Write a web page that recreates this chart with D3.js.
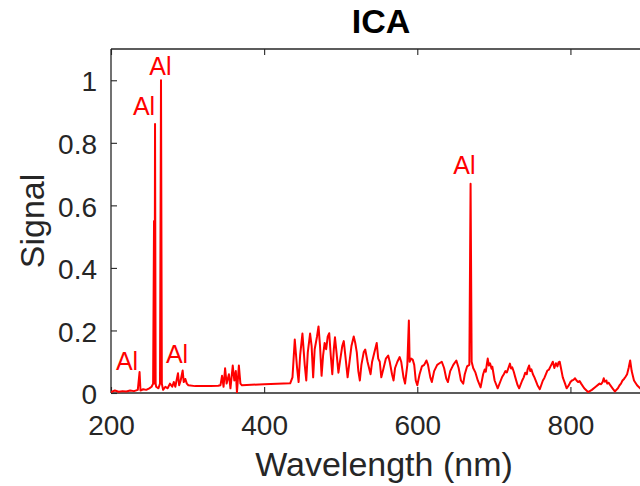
<!DOCTYPE html>
<html>
<head>
<meta charset="utf-8">
<script src="https://cdn.jsdelivr.net/npm/d3@7"></script>
<style>
  html, body { margin: 0; padding: 0; background: #fff; }
  svg { display: block; }
  text { font-family: "Liberation Sans", Arial, Helvetica, sans-serif; }
</style>
</head>
<body>
<svg id="chart" width="640" height="486"></svg>
<script>
// ---- data ----
const wavelength = [
  200,205,210,215,220,225,230,235,237.3,238.5,242,246,250,253,255,256.2,256.9,257.5,258.3,259,262,264,265.3,266.4,268,
  271,274,277,280,282,284,287.5,289,291,293.6,295,297,299,301,310,320,330,340,343,345,347,349,351,354,356,359,361,363,364.5,367,369,371,
  400,434,437,440,443,445,447,450,453,455,457,460,462,464,466,469,471,473,475,477,479,481,483,485,487,489,491,492.5,494.5,497,
  499,502,504,506,509,511,514,517,519,521,523,525,527,530,532,535,539,541,544,547,549,551,553,556,559,562,564,567,569,571,574,
  577,579,582,584,587,589,590,592,594,596,598,600,603,606,609,612,614,617,619,622,626,629,632,635,638,640,643,647,651,654,657,
  660,662,665,668,669.6,671,673,676,679,682.7,686,688,689.5,691,692,693.5,695,697,698,701,705,709,711,713,715,717,719,721,722.5,724,726,728,731,733,737,739,741,743,744,746,747.5,749,
  751,753,757,760,764,766,768,770,772,774,775,777,779,781,783,784.5,786,788,790,793,795,798,800,802,804,806,808,810,812,814,818,823,828,833,836,838,840,842,843.5,845,847,848,850,852,855,
  858,862,864,866,868,870,872,874,876,878,880,883,887,891,895,900
];
const signal = [
  0.003,0.008,0.004,0.006,0.005,0.008,0.006,0.010,0.067,0.008,0.012,0.010,0.015,0.020,0.030,0.550,0.030,0.860,0.030,0.020,0.015,0.030,1.000,0.030,0.010,
  0.020,0.015,0.030,0.020,0.035,0.020,0.063,0.025,0.040,0.072,0.035,0.045,0.030,0.025,0.022,0.022,0.022,0.023,0.025,0.055,0.020,0.079,0.030,0.060,0.015,0.088,0.040,0.070,0.002,0.088,0.030,0.025,
  0.028,0.031,0.050,0.171,0.080,0.035,0.120,0.190,0.090,0.040,0.130,0.190,0.150,0.050,0.140,0.180,0.213,0.150,0.055,0.120,0.160,0.140,0.180,0.191,0.120,0.060,0.140,0.178,0.130,0.065,
  0.100,0.150,0.166,0.120,0.050,0.090,0.150,0.181,0.160,0.130,0.070,0.040,0.090,0.130,0.139,0.100,0.060,0.100,0.130,0.160,0.110,0.100,0.050,0.080,0.110,0.120,0.100,0.060,0.040,0.080,0.100,
  0.115,0.100,0.050,0.030,0.090,0.232,0.100,0.110,0.107,0.090,0.040,0.025,0.060,0.085,0.090,0.104,0.090,0.050,0.035,0.070,0.090,0.095,0.100,0.080,0.045,0.035,0.070,0.090,0.104,0.080,0.040,
  0.030,0.060,0.085,0.090,0.669,0.100,0.080,0.065,0.040,0.018,0.060,0.075,0.068,0.095,0.110,0.088,0.095,0.078,0.084,0.040,0.015,0.040,0.052,0.060,0.070,0.066,0.080,0.094,0.078,0.082,0.068,0.050,0.025,0.015,0.040,0.050,0.065,0.060,0.075,0.088,0.070,0.076,
  0.060,0.050,0.025,0.012,0.040,0.048,0.060,0.072,0.075,0.085,0.090,0.100,0.080,0.095,0.085,0.098,0.100,0.075,0.050,0.030,0.015,0.025,0.035,0.040,0.042,0.047,0.040,0.035,0.038,0.030,0.015,0.003,0.010,0.020,0.026,0.030,0.028,0.035,0.047,0.036,0.040,0.030,0.033,0.025,0.015,
  0.005,0.015,0.024,0.030,0.040,0.045,0.052,0.060,0.080,0.104,0.070,0.040,0.025,0.015,0.010,0.010
];
const xTicks = [200, 400, 600, 800];
const yTicks = [0, 0.2, 0.4, 0.6, 0.8, 1];
const yTickLabels = ["0", "0.2", "0.4", "0.6", "0.8", "1"];
const annotText = ["Al", "Al", "Al", "Al", "Al"];
const annotX = [220.9, 243.1, 264.6, 286.2, 661.6];
const annotY = [0.072, 0.889, 1.017, 0.096, 0.701];

(function () {
  // ---- layout ----
  const svg = d3.select("#chart");
  const axisColor = "#262626";
  const mLeft = 111, mRight = 647, mTop = 49, mBottom = 393;
  const x = d3.scaleLinear().domain([200, 900]).range([mLeft, mRight]);
  const y = d3.scaleLinear().domain([0, 1.1]).range([mBottom, mTop]);

  svg.append("defs").append("clipPath").attr("id", "plotclip")
    .append("rect").attr("x", mLeft).attr("y", mTop - 2)
    .attr("width", mRight - mLeft).attr("height", mBottom - mTop + 2);

  // axes
  const xAxisB = d3.axisBottom(x).tickValues(xTicks).tickSize(-6).tickPadding(22).tickFormat(d3.format("d"));
  const xAxisT = d3.axisTop(x).tickValues(xTicks).tickSize(-6).tickFormat("");
  const yAxisL = d3.axisLeft(y).tickValues(yTicks).tickSize(-6).tickPadding(14).tickFormat((d, i) => yTickLabels[i]);

  function styleAxis(g) {
    g.select(".domain").attr("stroke", axisColor).attr("stroke-width", 1.3);
    g.selectAll(".tick line").attr("stroke", axisColor).attr("stroke-width", 1.1);
    g.selectAll(".tick text").attr("fill", axisColor).attr("font-size", 28)
      .attr("font-family", "'Liberation Sans', Arial, sans-serif");
  }
  const gxB = svg.append("g").attr("transform", `translate(0,${mBottom})`).call(xAxisB).call(styleAxis);
  gxB.select(".domain").attr("d", `M${mLeft},0H${mRight}`);
  const gxT = svg.append("g").attr("transform", `translate(0,${mTop})`).call(xAxisT).call(styleAxis);
  gxT.select(".domain").attr("d", `M${mLeft},0H${mRight}`);
  const gyL = svg.append("g").attr("transform", `translate(${mLeft},0)`).call(yAxisL).call(styleAxis);
  gyL.select(".domain").attr("d", `M0,${mBottom}V${mTop}`);
  gyL.selectAll(".tick text").attr("dy", "0.38em");
  gxB.selectAll(".tick text").attr("dy", "0.72em");

  // data line
  const pts = wavelength.map((w, i) => [w, signal[i]]);
  svg.append("path")
    .datum(pts)
    .attr("clip-path", "url(#plotclip)")
    .attr("fill", "none")
    .attr("stroke", "#ff0000")
    .attr("stroke-width", 2)
    .attr("stroke-linejoin", "round")
    .attr("d", d3.line().x(d => x(d[0])).y(d => y(d[1])));

  // annotations
  svg.append("g").selectAll("text")
    .data(annotText)
    .join("text")
    .attr("x", (d, i) => x(annotX[i]))
    .attr("y", (d, i) => y(annotY[i]))
    .attr("text-anchor", "middle")
    .attr("font-size", 25)
    .attr("fill", "#ff0000")
    .text(d => d);

  // title and labels
  svg.append("text").attr("x", (mLeft + mRight) / 2 + 2).attr("y", 33)
    .attr("text-anchor", "middle").attr("font-size", 34).attr("font-weight", "bold")
    .attr("fill", "#000").text("ICA");
  svg.append("text").attr("x", 384).attr("y", 476)
    .attr("text-anchor", "middle").attr("font-size", 34).attr("fill", axisColor)
    .text("Wavelength (nm)");
  svg.append("text").attr("transform", `translate(44,${(mTop + mBottom) / 2}) rotate(-90)`)
    .attr("text-anchor", "middle").attr("font-size", 34).attr("fill", axisColor)
    .text("Signal");
})();
</script>
</body>
</html>
